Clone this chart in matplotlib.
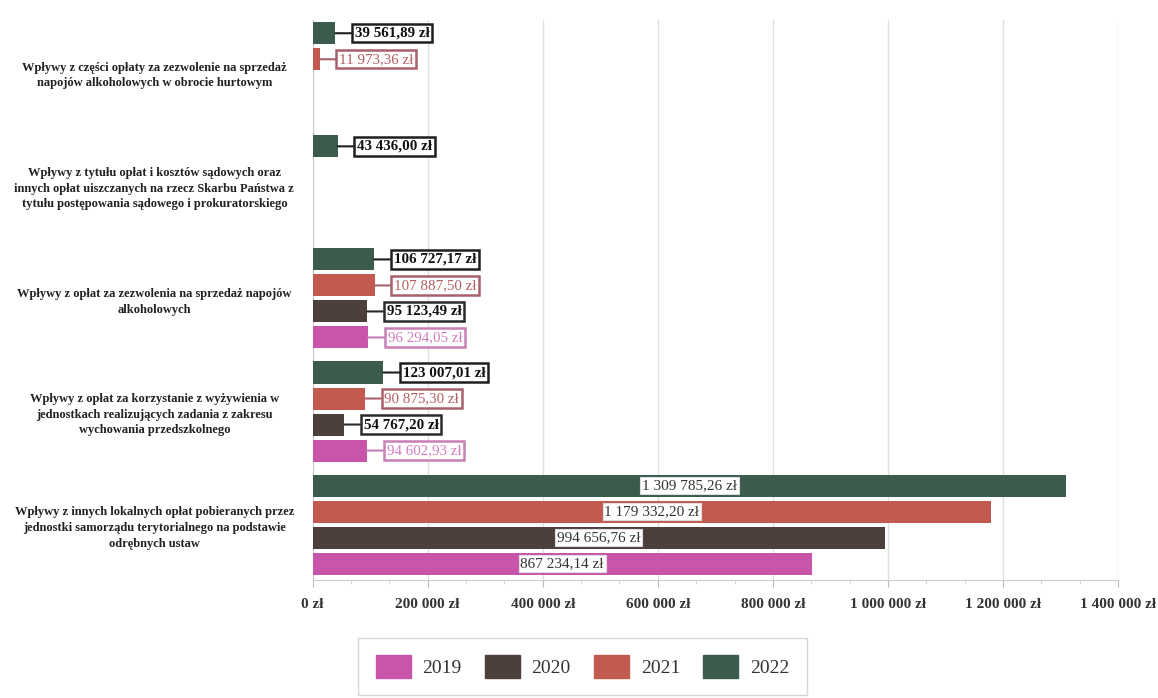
import matplotlib
matplotlib.use('Agg')
import matplotlib.pyplot as plt
import numpy as np

plt.rcParams['font.family'] = ['Liberation Serif', 'DejaVu Serif']

# kategorie od dołu do góry
kategorie = [
    'Wpływy z innych lokalnych opłat pobieranych przez\njednostki samorządu terytorialnego na podstawie\nodrębnych ustaw',
    'Wpływy z opłat za korzystanie z wyżywienia w\njednostkach realizujących zadania z zakresu\nwychowania przedszkolnego',
    'Wpływy z opłat za zezwolenia na sprzedaż napojów\nalkoholowych',
    'Wpływy z tytułu opłat i kosztów sądowych oraz\ninnych opłat uiszczanych na rzecz Skarbu Państwa z\ntytułu postępowania sądowego i prokuratorskiego',
    'Wpływy z części opłaty za zezwolenie na sprzedaż\nnapojów alkoholowych w obrocie hurtowym',
]
lata = ['2019', '2020', '2021', '2022']
w2019 = [867234.14, 94602.93, 96294.05, None, None]
w2020 = [994656.76, 54767.20, 95123.49, None, None]
w2021 = [1179332.20, 90875.30, 107887.50, None, 11973.36]
w2022 = [1309785.26, 123007.01, 106727.17, 43436.00, 39561.89]
xticks = [0, 200000, 400000, 600000, 800000, 1000000, 1200000, 1400000]

kolory = ['#c955ab', '#4d3f3c', '#c35a4f', '#3b5b4d']
ramki = ['#c77fb5', '#2b2b2b', '#a8606a', '#1f1f1f']
teksty = ['#d27cc0', '#111111', '#b45e60', '#111111']
grube = ['normal', 'bold', 'normal', 'bold']


def zl(v):
    s = '{:,.2f}'.format(v)
    s = s.replace(',', ' ').replace('.', ',')
    return s + ' zł'


fig = plt.figure(figsize=(11.58, 6.98), dpi=100)
ax = fig.add_axes([0.270, 0.169, 0.6955, 0.802])

slot = 0.23
h = 0.195
y = np.arange(len(kategorie))
dane = [w2019, w2020, w2021, w2022]
for k, seria in enumerate(dane):
    off = (k - 1.5) * slot
    for i, v in enumerate(seria):
        if v is None:
            continue
        ax.barh(y[i] + off, v, height=h, color=kolory[k], zorder=3)
        if v > 500000:
            ax.text(v / 2, y[i] + off, zl(v), ha='center', va='center', fontsize=11,
                    color='#333333', zorder=5,
                    bbox=dict(boxstyle='square,pad=0.12', fc='white', ec='#dddddd', lw=0.8))
        else:
            ax.annotate(zl(v), xy=(v, y[i] + off), xytext=(14, 0), textcoords='offset points',
                        ha='left', va='center', fontsize=10.8, color=teksty[k], fontweight=grube[k],
                        zorder=5,
                        bbox=dict(boxstyle='square,pad=0.18', fc='white', ec=ramki[k], lw=1.8),
                        arrowprops=dict(arrowstyle='-', color=ramki[k], lw=1.5,
                                        shrinkA=0, shrinkB=0))

ax.set_xlim(0, 1400000)
ax.set_ylim(-0.49, 4.46)
ax.set_xticks(xticks)
ax.set_xticklabels([zl(t).replace(',00', '') for t in xticks], fontsize=11,
                   fontweight='bold', color='#333333')
ax.set_xticks(np.arange(0, 1400001, 66666.67), minor=True)
ax.tick_params(axis='x', which='major', length=5, color='#bbbbbb', pad=8)
ax.tick_params(axis='x', which='minor', length=3, color='#cccccc')
ax.set_yticks(y)
ax.set_yticklabels(kategorie, ha='center', multialignment='center', fontsize=9,
                   fontweight='bold', color='#222222', linespacing=1.4)
ax.tick_params(axis='y', length=0, pad=114)
ax.grid(axis='x', color='#e0e0e0', lw=1, zorder=0)
for s in ['top', 'right']:
    ax.spines[s].set_visible(False)
ax.spines['left'].set_color('#cccccc')
ax.spines['bottom'].set_color('#cccccc')

uchwyty = [plt.Rectangle((0, 0), 1, 1, color=c) for c in kolory]
leg = fig.legend(uchwyty, lata, loc='center', bbox_to_anchor=(0.503, 0.045), ncol=4,
                 fontsize=14, frameon=True, fancybox=False, edgecolor='#cccccc',
                 handlelength=1.8, handleheight=1.4, columnspacing=1.2, handletextpad=0.6,
                 borderpad=0.9)
for t in leg.get_texts():
    t.set_color('#333333')

fig.savefig('out.png', dpi=100)
